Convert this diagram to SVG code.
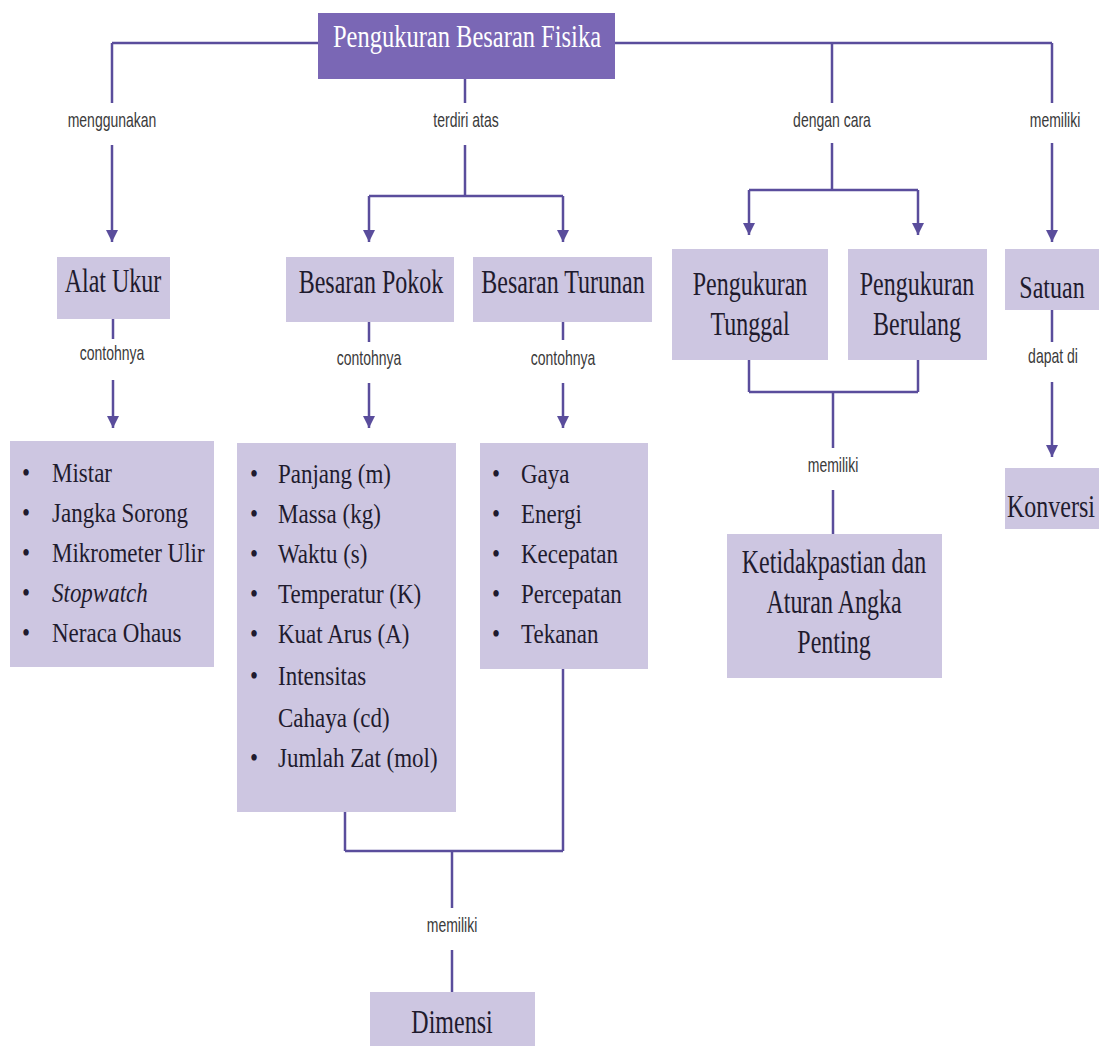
<svg xmlns="http://www.w3.org/2000/svg" width="1102" height="1046" viewBox="0 0 1102 1046">
<style>
.bg{fill:#ffffff}
.box{fill:#cdc6e1}
.top{fill:#7a67b5}
.ln{stroke:#5a4d9c;stroke-width:2.5;fill:none}
.ar{stroke:#5a4d9c;stroke-width:2.5;fill:none;marker-end:url(#arrow)}
.t{font-family:"Liberation Serif","Times New Roman",serif;font-size:23px;fill:#1f1b2e}
.tt{font-family:"Liberation Serif","Times New Roman",serif;font-size:24px;fill:#1f1b2e;text-anchor:middle}
.tw{font-family:"Liberation Serif","Times New Roman",serif;font-size:24.5px;fill:#ffffff;text-anchor:middle}
.lbl{font-family:"Liberation Sans",Arial,sans-serif;font-size:14px;fill:#3a3a3a;text-anchor:middle}
.it{font-style:italic}
</style>
<defs>
<marker id="arrow" viewBox="0 0 10 10" refX="10" refY="5" markerWidth="14" markerHeight="12" markerUnits="userSpaceOnUse" orient="auto">
<path d="M0,0 L10,5 L0,10 z" fill="#5a4d9c"/>
</marker>
</defs>
<rect class="bg" x="0" y="0" width="1102" height="1046"/>

<g id="connectors">
<line class="ln" x1="112" y1="43" x2="1052" y2="43"/>
<line class="ln" x1="112" y1="43" x2="112" y2="103"/>
<line class="ar" x1="112" y1="145" x2="112" y2="242"/>
<line class="ln" x1="465" y1="79" x2="465" y2="103"/>
<line class="ln" x1="465" y1="145" x2="465" y2="196"/>
<line class="ln" x1="369" y1="196" x2="563" y2="196"/>
<line class="ar" x1="369" y1="196" x2="369" y2="242"/>
<line class="ar" x1="563" y1="196" x2="563" y2="242"/>
<line class="ln" x1="832" y1="43" x2="832" y2="103"/>
<line class="ln" x1="832" y1="143" x2="832" y2="190"/>
<line class="ln" x1="749" y1="190" x2="918" y2="190"/>
<line class="ar" x1="749" y1="190" x2="749" y2="235"/>
<line class="ar" x1="918" y1="190" x2="918" y2="235"/>
<line class="ln" x1="1052" y1="43" x2="1052" y2="103"/>
<line class="ar" x1="1052" y1="143" x2="1052" y2="242"/>
<line class="ln" x1="113" y1="319" x2="113" y2="339"/>
<line class="ar" x1="113" y1="380" x2="113" y2="428"/>
<line class="ln" x1="369" y1="322" x2="369" y2="342"/>
<line class="ar" x1="369" y1="383" x2="369" y2="428"/>
<line class="ln" x1="563" y1="322" x2="563" y2="340"/>
<line class="ar" x1="563" y1="383" x2="563" y2="428"/>
<line class="ln" x1="749" y1="360" x2="749" y2="392"/>
<line class="ln" x1="918" y1="360" x2="918" y2="392"/>
<line class="ln" x1="749" y1="392" x2="918" y2="392"/>
<line class="ln" x1="833" y1="392" x2="833" y2="448"/>
<line class="ln" x1="833" y1="490" x2="833" y2="535"/>
<line class="ln" x1="1052" y1="310" x2="1052" y2="342"/>
<line class="ar" x1="1052" y1="382" x2="1052" y2="457"/>
<line class="ln" x1="345" y1="812" x2="345" y2="851"/>
<line class="ln" x1="563" y1="669" x2="563" y2="851"/>
<line class="ln" x1="345" y1="851" x2="563" y2="851"/>
<line class="ln" x1="452" y1="851" x2="452" y2="908"/>
<line class="ln" x1="452" y1="950" x2="452" y2="992"/>
<text class="lbl" transform="translate(112,127) scale(1,1.4)">menggunakan</text>
<text class="lbl" transform="translate(466,127) scale(1,1.4)">terdiri atas</text>
<text class="lbl" transform="translate(832,127) scale(1,1.4)">dengan  cara</text>
<text class="lbl" transform="translate(1055,127) scale(1,1.4)">memiliki</text>
<text class="lbl" transform="translate(112,360) scale(1,1.4)">contohnya</text>
<text class="lbl" transform="translate(369,365) scale(1,1.4)">contohnya</text>
<text class="lbl" transform="translate(563,365) scale(1,1.4)">contohnya</text>
<text class="lbl" transform="translate(1053,363) scale(1,1.4)">dapat di</text>
<text class="lbl" transform="translate(833,472) scale(1,1.4)">memiliki</text>
<text class="lbl" transform="translate(452,932) scale(1,1.4)">memiliki</text>
</g>

<g id="node-root">
<rect class="top" x="318" y="13" width="297" height="66"/>
<text class="tw" transform="translate(467,47) scale(1,1.3)">Pengukuran Besaran Fisika</text>
</g>

<g id="node-alat-ukur">
<rect class="box" x="57" y="257" width="113" height="62"/>
<text class="tt" transform="translate(113,292) scale(1,1.42)">Alat Ukur</text>
</g>

<g id="node-besaran-pokok">
<rect class="box" x="286" y="257" width="168" height="65"/>
<text class="tt" transform="translate(371,293) scale(1,1.4)">Besaran Pokok</text>
</g>

<g id="node-besaran-turunan">
<rect class="box" x="473" y="257" width="179" height="65"/>
<text class="tt" transform="translate(563,293) scale(1,1.4)">Besaran Turunan</text>
</g>

<g id="node-tunggal">
<rect class="box" x="672" y="249" width="156" height="111"/>
<text class="tt" transform="translate(750,295) scale(1,1.36)">Pengukuran</text>
<text class="tt" transform="translate(750,335) scale(1,1.36)">Tunggal</text>
</g>

<g id="node-berulang">
<rect class="box" x="848" y="249" width="139" height="111"/>
<text class="tt" transform="translate(917,295) scale(1,1.36)">Pengukuran</text>
<text class="tt" transform="translate(917,335) scale(1,1.36)">Berulang</text>
</g>

<g id="node-satuan">
<rect class="box" x="1005" y="249" width="94" height="61"/>
<text class="tt" transform="translate(1052,298) scale(1,1.33)">Satuan</text>
</g>

<g id="node-konversi">
<rect class="box" x="1005" y="468" width="94" height="61"/>
<text class="tt" transform="translate(1051,517) scale(1,1.33)">Konversi</text>
</g>

<g id="node-list-alat">
<rect class="box" x="10" y="441" width="204" height="226"/>
<g class="t">
<text transform="translate(22,482) scale(1,1.2)">•</text>
<text transform="translate(52,482) scale(1,1.2)">Mistar</text>
<text transform="translate(22,522) scale(1,1.2)">•</text>
<text transform="translate(52,522) scale(1,1.2)">Jangka Sorong</text>
<text transform="translate(22,562) scale(1,1.2)">•</text>
<text transform="translate(52,562) scale(1,1.2)">Mikrometer Ulir</text>
<text transform="translate(22,602) scale(1,1.2)">•</text>
<text class="it" transform="translate(52,602) scale(1,1.2)">Stopwatch</text>
<text transform="translate(22,642) scale(1,1.2)">•</text>
<text transform="translate(52,642) scale(1,1.2)">Neraca Ohaus</text>
</g>
</g>

<g id="node-list-pokok">
<rect class="box" x="237" y="443" width="219" height="369"/>
<g class="t">
<text transform="translate(250,483) scale(1,1.2)">•</text>
<text transform="translate(278,483) scale(1,1.2)">Panjang (m)</text>
<text transform="translate(250,523) scale(1,1.2)">•</text>
<text transform="translate(278,523) scale(1,1.2)">Massa (kg)</text>
<text transform="translate(250,563) scale(1,1.2)">•</text>
<text transform="translate(278,563) scale(1,1.2)">Waktu (s)</text>
<text transform="translate(250,603) scale(1,1.2)">•</text>
<text transform="translate(278,603) scale(1,1.2)">Temperatur (K)</text>
<text transform="translate(250,643) scale(1,1.2)">•</text>
<text transform="translate(278,643) scale(1,1.2)">Kuat Arus (A)</text>
<text transform="translate(250,685) scale(1,1.2)">•</text>
<text transform="translate(278,685) scale(1,1.2)">Intensitas</text>
<text transform="translate(278,727) scale(1,1.2)">Cahaya (cd)</text>
<text transform="translate(250,767) scale(1,1.2)">•</text>
<text transform="translate(278,767) scale(1,1.2)">Jumlah Zat (mol)</text>
</g>
</g>

<g id="node-list-turunan">
<rect class="box" x="480" y="443" width="168" height="226"/>
<g class="t">
<text transform="translate(492,483) scale(1,1.2)">•</text>
<text transform="translate(521,483) scale(1,1.2)">Gaya</text>
<text transform="translate(492,523) scale(1,1.2)">•</text>
<text transform="translate(521,523) scale(1,1.2)">Energi</text>
<text transform="translate(492,563) scale(1,1.2)">•</text>
<text transform="translate(521,563) scale(1,1.2)">Kecepatan</text>
<text transform="translate(492,603) scale(1,1.2)">•</text>
<text transform="translate(521,603) scale(1,1.2)">Percepatan</text>
<text transform="translate(492,643) scale(1,1.2)">•</text>
<text transform="translate(521,643) scale(1,1.2)">Tekanan</text>
</g>
</g>

<g id="node-ketidakpastian">
<rect class="box" x="727" y="534" width="215" height="144"/>
<text class="tt" transform="translate(834,573) scale(1,1.36)">Ketidakpastian dan</text>
<text class="tt" transform="translate(834,613) scale(1,1.36)">Aturan Angka</text>
<text class="tt" transform="translate(834,653) scale(1,1.36)">Penting</text>
</g>

<g id="node-dimensi">
<rect class="box" x="370" y="992" width="165" height="60"/>
<text class="tt" transform="translate(452,1033) scale(1,1.36)">Dimensi</text>
</g>
</svg>
